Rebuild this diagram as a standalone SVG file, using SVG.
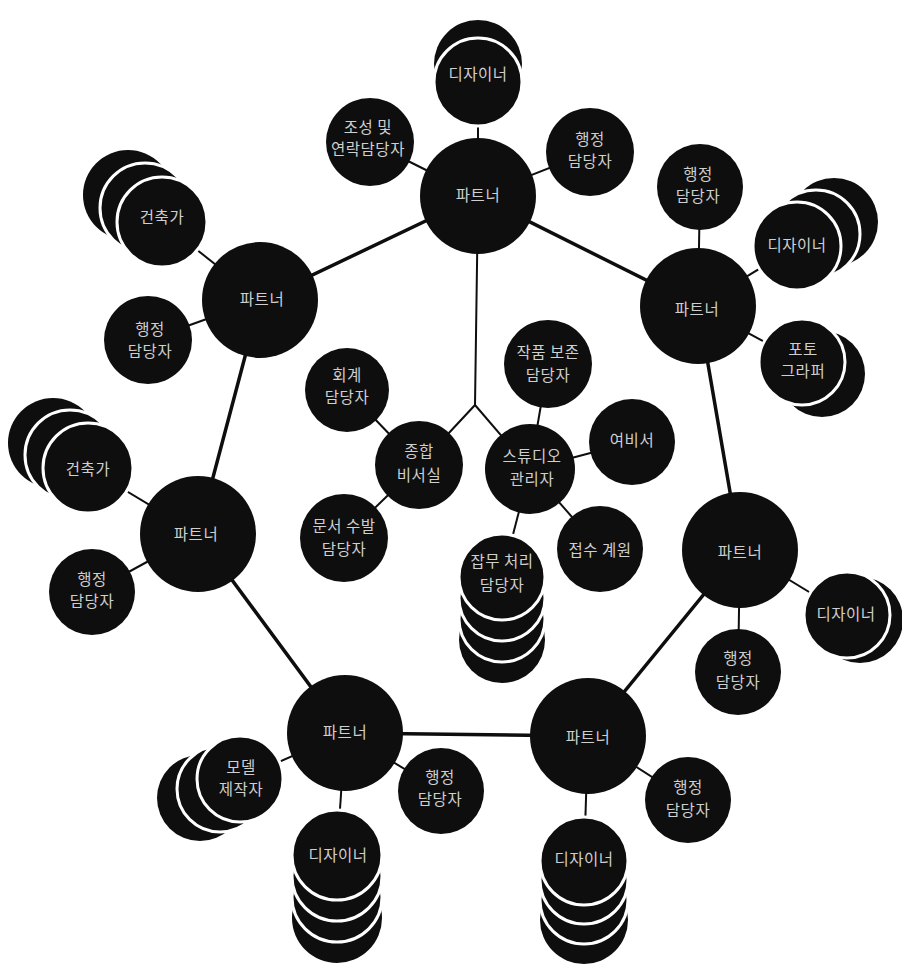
<svg xmlns="http://www.w3.org/2000/svg" width="902" height="965" viewBox="0 0 902 965">
<style>
.c{fill:#0e0e0e}
.s{fill:#0e0e0e;stroke:#fff;stroke-width:3}
.t{fill:#cfcfcf;font-family:"Noto Sans CJK KR","Noto Sans",sans-serif;font-size:15.5px;letter-spacing:0.5px;text-anchor:middle}
.e{stroke:#0e0e0e;stroke-width:3.5;fill:none}
.k{stroke:#0e0e0e;stroke-width:2;fill:none}
</style>
<rect width="902" height="965" fill="#fff"/>
<g id="connectors">
<polyline class="e" points="478,196 698,306 740,550 588,736 345,733 198,534 260,300 478,196"/>
<polyline class="k" points="478,196 475,405 419,465"/>
<line class="k" x1="475" y1="405" x2="530" y2="469"/>
<line class="k" x1="478" y1="196" x2="478" y2="82"/>
<line class="k" x1="478" y1="196" x2="370" y2="142"/>
<line class="k" x1="478" y1="196" x2="590" y2="152"/>
<line class="k" x1="260" y1="300" x2="162" y2="222"/>
<line class="k" x1="260" y1="300" x2="148" y2="340"/>
<line class="k" x1="698" y1="306" x2="700" y2="187"/>
<line class="k" x1="698" y1="306" x2="797" y2="246"/>
<line class="k" x1="698" y1="306" x2="802" y2="362"/>
<line class="k" x1="198" y1="534" x2="88" y2="468"/>
<line class="k" x1="198" y1="534" x2="92" y2="592"/>
<line class="k" x1="740" y1="550" x2="847" y2="615"/>
<line class="k" x1="740" y1="550" x2="738" y2="672"/>
<line class="k" x1="345" y1="733" x2="240" y2="779"/>
<line class="k" x1="345" y1="733" x2="441" y2="791"/>
<line class="k" x1="345" y1="733" x2="337" y2="855"/>
<line class="k" x1="588" y1="736" x2="688" y2="800"/>
<line class="k" x1="588" y1="736" x2="584" y2="861"/>
<line class="k" x1="419" y1="465" x2="347" y2="390"/>
<line class="k" x1="419" y1="465" x2="344" y2="538"/>
<line class="k" x1="530" y1="469" x2="548" y2="364"/>
<line class="k" x1="530" y1="469" x2="632" y2="442"/>
<line class="k" x1="530" y1="469" x2="600" y2="549"/>
<line class="k" x1="530" y1="469" x2="502" y2="577"/>
</g>

<g id="partner-top"><circle class="c" cx="478" cy="196" r="58"/><text class="t" x="478" y="201">파트너</text></g>
<g id="partner-upper-left"><circle class="c" cx="260" cy="300" r="58"/><text class="t" x="262" y="305">파트너</text></g>
<g id="partner-upper-right"><circle class="c" cx="698" cy="306" r="58"/><text class="t" x="697" y="315">파트너</text></g>
<g id="partner-mid-left"><circle class="c" cx="198" cy="534" r="58"/><text class="t" x="196" y="540">파트너</text></g>
<g id="partner-mid-right"><circle class="c" cx="740" cy="550" r="58"/><text class="t" x="740" y="558">파트너</text></g>
<g id="partner-bottom-left"><circle class="c" cx="345" cy="733" r="58"/><text class="t" x="345" y="738">파트너</text></g>
<g id="partner-bottom-right"><circle class="c" cx="588" cy="736" r="58"/><text class="t" x="588" y="743">파트너</text></g>

<g id="designer-top"><circle class="c" cx="478" cy="64" r="44"/><circle class="s" cx="478" cy="82" r="44"/><text class="t" x="478" y="80">디자이너</text></g>
<g id="coordinator-top"><circle class="c" cx="370" cy="142" r="44"/><text class="t" x="368" y="133">조성 및</text><text class="t" x="368" y="155">연락담당자</text></g>
<g id="admin-top"><circle class="c" cx="590" cy="152" r="44"/><text class="t" x="590" y="145">행정</text><text class="t" x="590" y="167">담당자</text></g>

<g id="architect-upper-left"><circle class="c" cx="128" cy="195" r="45"/><circle class="s" cx="145" cy="208" r="45"/><circle class="s" cx="162" cy="222" r="45"/><text class="t" x="162" y="223">건축가</text></g>
<g id="admin-upper-left"><circle class="c" cx="148" cy="340" r="44"/><text class="t" x="150" y="335">행정</text><text class="t" x="150" y="357">담당자</text></g>

<g id="admin-upper-right"><circle class="c" cx="700" cy="187" r="43"/><text class="t" x="698" y="180">행정</text><text class="t" x="698" y="202">담당자</text></g>
<g id="designer-upper-right"><circle class="c" cx="834" cy="222" r="44"/><circle class="s" cx="816" cy="234" r="44"/><circle class="s" cx="797" cy="246" r="44"/><text class="t" x="797" y="251">디자이너</text></g>
<g id="photographer"><circle class="c" cx="822" cy="374" r="43"/><circle class="s" cx="802" cy="362" r="43"/><text class="t" x="803" y="355">포토</text><text class="t" x="803" y="377">그라퍼</text></g>

<g id="architect-mid-left"><circle class="c" cx="53" cy="443" r="45"/><circle class="s" cx="70" cy="455" r="45"/><circle class="s" cx="88" cy="468" r="45"/><text class="t" x="88" y="475">건축가</text></g>
<g id="admin-mid-left"><circle class="c" cx="92" cy="592" r="43"/><text class="t" x="92" y="585">행정</text><text class="t" x="92" y="607">담당자</text></g>

<g id="designer-mid-right"><circle class="c" cx="860" cy="620" r="43"/><circle class="s" cx="847" cy="615" r="43"/><text class="t" x="846" y="620">디자이너</text></g>
<g id="admin-mid-right"><circle class="c" cx="738" cy="672" r="43"/><text class="t" x="738" y="664">행정</text><text class="t" x="738" y="688">담당자</text></g>

<g id="model-maker"><circle class="c" cx="200" cy="798" r="43"/><circle class="s" cx="220" cy="789" r="43"/><circle class="s" cx="240" cy="779" r="43"/><text class="t" x="241" y="773">모델</text><text class="t" x="241" y="795">제작자</text></g>
<g id="admin-bottom-left"><circle class="c" cx="441" cy="791" r="43"/><text class="t" x="440" y="783">행정</text><text class="t" x="440" y="805">담당자</text></g>
<g id="designer-bottom-left"><circle class="c" cx="337" cy="918" r="45"/><circle class="s" cx="337" cy="897" r="45"/><circle class="s" cx="337" cy="876" r="45"/><circle class="s" cx="337" cy="855" r="45"/><text class="t" x="338" y="861">디자이너</text></g>

<g id="admin-bottom-right"><circle class="c" cx="688" cy="800" r="43"/><text class="t" x="688" y="793">행정</text><text class="t" x="688" y="816">담당자</text></g>
<g id="designer-bottom-right"><circle class="c" cx="584" cy="920" r="44"/><circle class="s" cx="584" cy="900" r="44"/><circle class="s" cx="584" cy="880" r="44"/><circle class="s" cx="584" cy="861" r="44"/><text class="t" x="584" y="865">디자이너</text></g>

<g id="general-secretariat"><circle class="c" cx="419" cy="465" r="44"/><text class="t" x="419" y="457">종합</text><text class="t" x="419" y="481">비서실</text></g>
<g id="studio-manager"><circle class="c" cx="530" cy="469" r="45"/><text class="t" x="532" y="462">스튜디오</text><text class="t" x="532" y="485">관리자</text></g>
<g id="accounting"><circle class="c" cx="347" cy="390" r="42"/><text class="t" x="347" y="381">회계</text><text class="t" x="347" y="403">담당자</text></g>
<g id="document-handling"><circle class="c" cx="344" cy="538" r="44"/><text class="t" x="344" y="532">문서 수발</text><text class="t" x="344" y="555">담당자</text></g>
<g id="archive"><circle class="c" cx="548" cy="364" r="44"/><text class="t" x="548" y="358">작품 보존</text><text class="t" x="548" y="381">담당자</text></g>
<g id="secretary"><circle class="c" cx="632" cy="442" r="43"/><text class="t" x="632" y="446">여비서</text></g>
<g id="reception"><circle class="c" cx="600" cy="549" r="43"/><text class="t" x="600" y="556">접수 계원</text></g>
<g id="clerical"><circle class="c" cx="502" cy="640" r="43"/><circle class="s" cx="502" cy="619" r="43"/><circle class="s" cx="502" cy="598" r="43"/><circle class="s" cx="502" cy="577" r="43"/><text class="t" x="502" y="567">잡무 처리</text><text class="t" x="502" y="591">담당자</text></g>
</svg>
